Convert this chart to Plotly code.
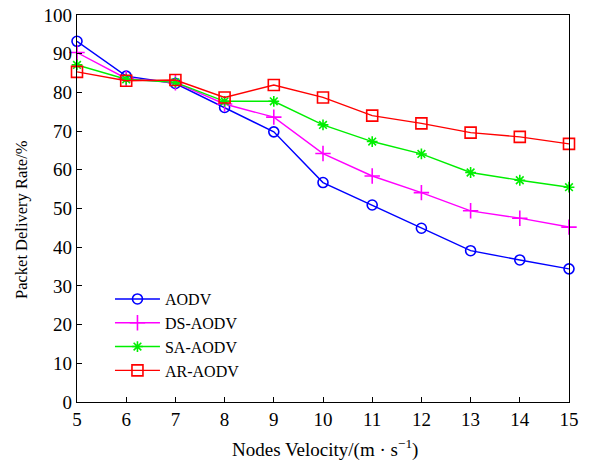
import plotly.graph_objects as go

velocity = [5, 6, 7, 8, 9, 10, 11, 12, 13, 14, 15]
aodv = [93.2, 84.2, 82.3, 76.1, 69.8, 56.7, 50.9, 44.9, 39.1, 36.7, 34.4]
ds_aodv = [90.3, 83.6, 82.5, 77.0, 73.6, 64.2, 58.4, 54.1, 49.4, 47.5, 45.2]
sa_aodv = [87.1, 83.4, 82.6, 77.7, 77.7, 71.6, 67.3, 64.1, 59.3, 57.3, 55.5]
ar_aodv = [85.3, 83.0, 83.2, 78.7, 81.9, 78.7, 74.0, 72.0, 69.6, 68.5, 66.7]

series = [
    ("AODV", aodv, "#0000ff", "circle-open", 10),
    ("DS-AODV", ds_aodv, "#ff00ff", "cross-thin-open", 11),
    ("SA-AODV", sa_aodv, "#00ee00", "asterisk-open", 9),
    ("AR-AODV", ar_aodv, "#ff0000", "square-open", 11),
]

fig = go.Figure()
for name, vals, color, sym, size in series:
    fig.add_trace(go.Scatter(
        x=velocity, y=vals, name=name, mode="lines+markers",
        line=dict(color=color, width=1.4),
        marker=dict(symbol=sym, size=size, color=color, line=dict(color=color, width=1.6)),
        cliponaxis=False,
    ))

font = "Liberation Serif, Times New Roman, serif"
fig.update_layout(
    width=593, height=464,
    margin=dict(l=77, r=24, t=15, b=62, autoexpand=False),
    paper_bgcolor="white", plot_bgcolor="white",
    font=dict(family=font, size=18, color="black"),
    showlegend=True,
    legend=dict(x=0.067, y=0.31, xanchor="left", yanchor="top",
                bgcolor="rgba(0,0,0,0)", font=dict(size=16, family=font),
                itemwidth=45, tracegroupgap=0),
    xaxis=dict(range=[5, 15], tickvals=velocity, ticks="inside", ticklen=5,
               tickcolor="black", showline=True, linecolor="black", linewidth=1.2,
               mirror=True, showgrid=False, zeroline=False, automargin=False,
               tickfont=dict(size=19)),
    yaxis=dict(range=[0, 100], tickvals=list(range(0, 101, 10)), ticks="inside", ticklen=5,
               tickcolor="black", showline=True, linecolor="black", linewidth=1.2,
               mirror=True, showgrid=False, zeroline=False, automargin=False,
               tickfont=dict(size=19)),
    annotations=[
        dict(text="Nodes Velocity/(m · s<sup>−1</sup>)", xref="paper", yref="paper",
             x=(325 - 77) / 492, y=-(449 - 402) / 387, xanchor="center", yanchor="middle",
             showarrow=False, font=dict(size=19)),
        dict(text="Packet Delivery Rate/%", xref="paper", yref="paper",
             x=-(77 - 21) / 492, y=(402 - 220) / 387, xanchor="center", yanchor="middle",
             textangle=-90, showarrow=False, font=dict(size=16.5)),
    ],
)

fig.write_html("out.html")
